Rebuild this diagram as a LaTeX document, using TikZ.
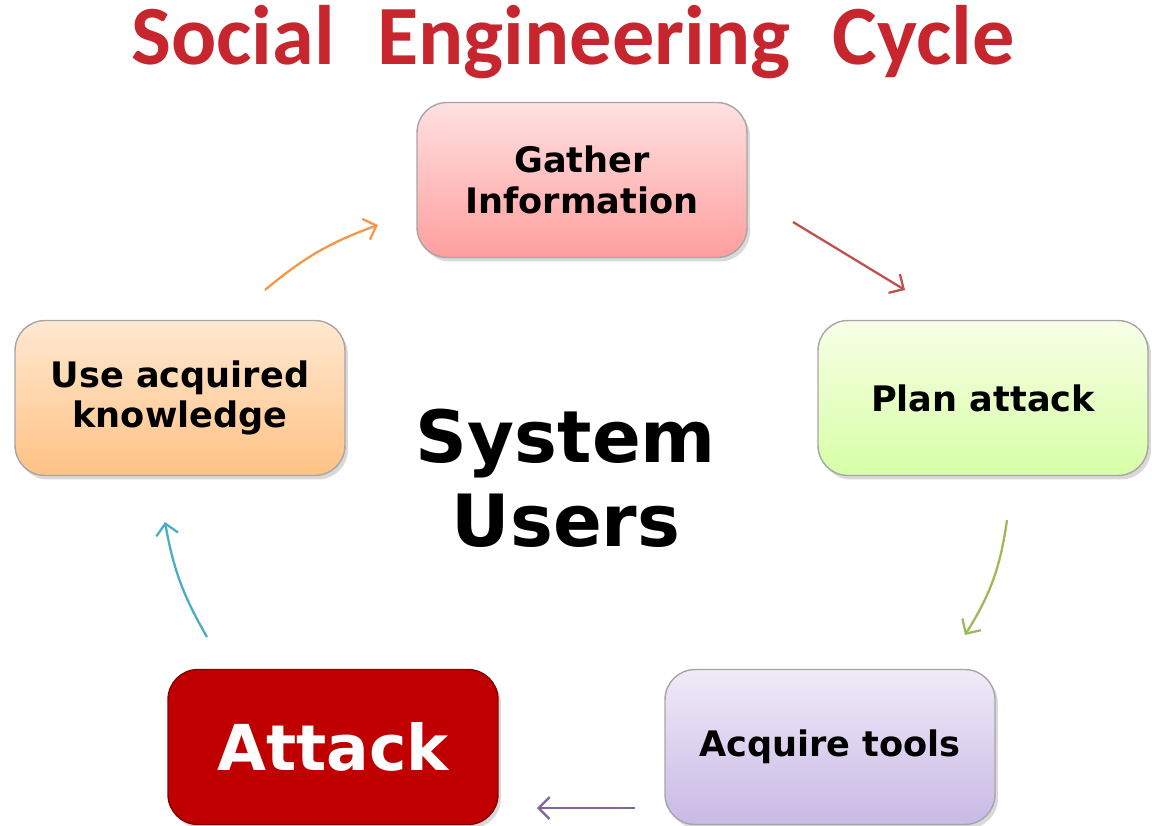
\documentclass[tikz,border=0pt]{standalone}
\usepackage{fontspec}
\setmainfont{DejaVu Sans}
\newfontfamily\titlefont{Carlito}
\usetikzlibrary{arrows.meta, shadows}

\definecolor{titlered}{HTML}{C8262E}
\definecolor{attackred}{HTML}{C00000}
\definecolor{arrorange}{HTML}{F79646}
\definecolor{arrred}{HTML}{C0504D}
\definecolor{arrgreen}{HTML}{9BBB59}
\definecolor{arrpurple}{HTML}{8064A2}
\definecolor{arrblue}{HTML}{4BACC6}

\begin{document}
\begin{tikzpicture}[x=0.02cm, y=-0.02cm,
  stage/.style={rectangle, rounded corners=0.6cm, draw=black!35, line width=0.8pt,
    minimum width=6.6cm, minimum height=3.1cm, align=center,
    font=\bfseries\fontsize{20}{23}\selectfont,
    drop shadow={opacity=0.3, shadow xshift=0.6mm, shadow yshift=-0.8mm}},
  cycle/.style={line width=1.3pt, -{Straight Barb[length=2.2mm, width=4.4mm]}}]

  \useasboundingbox (0,0) rectangle (1152,825);

  % Title
  \node[font=\titlefont\bfseries\fontsize{48}{54}\selectfont, text=titlered] (title) at (573,42)
    {Social\hspace{0.5em}Engineering\hspace{0.5em}Cycle};

  % Stages
  \node[stage, top color=red!12, bottom color=red!38] (gather) at (582,180) {Gather\\Information};
  \node[stage, top color=green!30!yellow!10, bottom color=green!45!yellow!35] (plan) at (983,398) {Plan attack};
  \node[stage, top color={rgb,255:red,240;green,234;blue,248}, bottom color={rgb,255:red,201;green,185;blue,230}] (tools) at (830,747) {Acquire tools};
  \node[stage, fill=attackred, draw=attackred!70!black, text=white,
    font=\bfseries\fontsize{36}{40}\selectfont] (attack) at (333,747) {Attack};
  \node[stage, top color=orange!18, bottom color=orange!48] (use) at (180,398) {Use acquired\\knowledge};

  % Centre
  \node[font=\bfseries\fontsize{41}{48}\selectfont, align=center] (users) at (566,478) {System\\Users};

  % Arrow ends
  \coordinate (a1) at (265,290);  \coordinate (b1) at (378,225);
  \coordinate (a2) at (793,222);  \coordinate (b2) at (905,290);
  \coordinate (a3) at (1007,520); \coordinate (b3) at (965,635);
  \coordinate (a4) at (635,808);  \coordinate (b4) at (537,808);
  \coordinate (a5) at (207,637);  \coordinate (b5) at (165,522);

  % Cycle arrows
  \draw[cycle, arrorange] (a1) to[bend left=10] (b1);
  \draw[cycle, arrred] (a2) -- (b2);
  \draw[cycle, arrgreen] (a3) to[bend left=12] (b3);
  \draw[cycle, arrpurple] (a4) -- (b4);
  \draw[cycle, arrblue] (a5) to[bend left=10] (b5);

\end{tikzpicture}
\end{document}
